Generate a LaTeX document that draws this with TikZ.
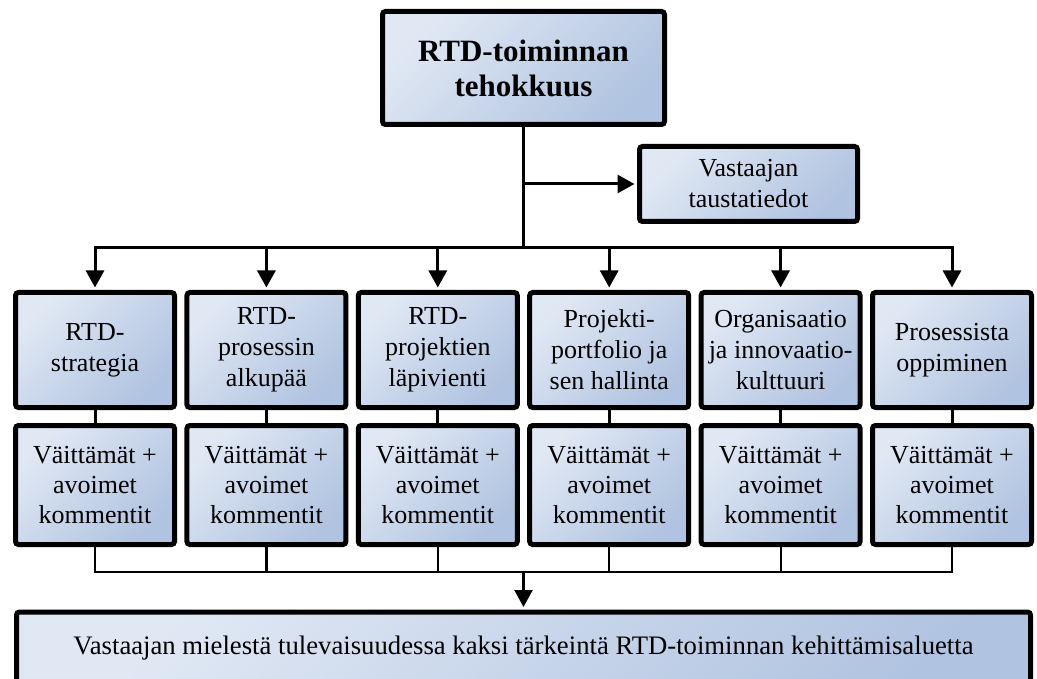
\documentclass[tikz,border=0pt]{standalone}
\usepackage{fontspec}
\setmainfont{Liberation Serif}
\usetikzlibrary{arrows.meta}
\definecolor{boxlight}{RGB}{224,232,244}
\definecolor{boxdark}{RGB}{176,195,224}
\tikzset{
  box/.style={draw=black, line width=5pt, rounded corners=3pt,
    top color=boxlight, bottom color=boxdark, shading angle=45,
    align=center, inner sep=0pt, text=black,
    font=\fontsize{26}{31}\selectfont},
  subbox/.style={box, minimum width=159pt, minimum height=115pt},
  notebox/.style={box, minimum width=159pt, minimum height=119pt,
    font=\fontsize{26}{30}\selectfont},
  link/.style={draw=black, line width=3pt},
  thinlink/.style={draw=black, line width=2.2pt},
  arr/.style={link, -{Triangle[length=17pt,width=18pt]}, shorten >=2.5pt},
  thinarr/.style={thinlink, -{Triangle[length=17pt,width=18pt]}, shorten >=2.5pt},
}
\begin{document}
\begin{tikzpicture}[x=1pt,y=-1pt]
  \clip (0,0) rectangle (1037,679);

  % main goal
  \node[box, minimum width=282pt, minimum height=113pt,
        font=\fontsize{31}{35}\selectfont\bfseries]
    (top) at (523.5,68) {RTD-toiminnan\\tehokkuus};
  % background information
  \node[box, minimum width=218pt, minimum height=75pt]
    (vast) at (748.5,184) {Vastaajan\\taustatiedot};

  % theme areas and their questionnaire items
  \foreach \i/\x/\txt in {
      1/95/{RTD-\\strategia},
      2/266.4/{RTD-\\prosessin\\alkupää},
      3/437.8/{RTD-\\projektien\\läpivienti},
      4/609.2/{Projekti-\\portfolio ja\\sen hallinta},
      5/780.6/{Organisaatio\\ja innovaatio-\\kulttuuri},
      6/952/{Prosessista\\oppiminen}} {
    \node[subbox] (s\i) at (\x,350) {\txt};
    \node[notebox] (c\i) at (\x,485) {Väittämät +\\avoimet\\kommentit};
  }

  % development areas
  \node[box, anchor=north, minimum width=1014pt, text height=42pt,
        text depth=70pt, font=\fontsize{26.7}{31}\selectfont]
    (fut) at (523.5,609.5)
    {Vastaajan mielestä tulevaisuudessa kaksi tärkeintä RTD-toiminnan kehittämisaluetta};

  % upper connectors
  \coordinate (hub) at (523.5,248);
  \coordinate (low) at (523.5,572);
  \draw[link] (top.south) -- (hub);
  \draw[arr] (top.south |- vast.west) -- (vast.west);
  \draw[link, line cap=rect] (s1.north |- hub) -- (s6.north |- hub);
  \foreach \i in {1,...,6} {
    \draw[arr] (s\i.north |- hub) -- (s\i.north);
    \draw[link] (s\i.south) -- (c\i.north);
    \draw[thinlink] (c\i.south) -- (c\i.south |- low);
  }
  % lower connectors
  \draw[thinlink, line cap=rect] (c1.south |- low) -- (c6.south |- low);
  \draw[thinarr] (low) -- (fut.north);
\end{tikzpicture}
\end{document}
